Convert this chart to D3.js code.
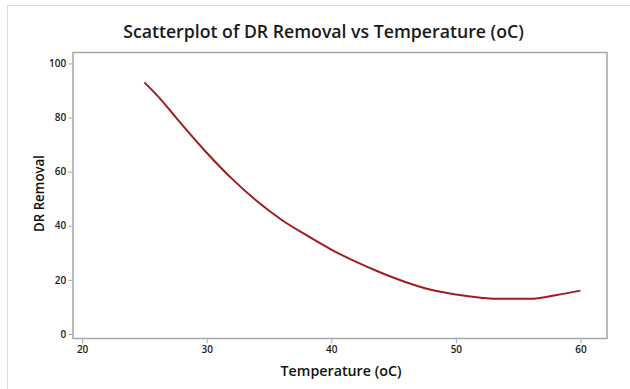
<!DOCTYPE html>
<html>
<head>
<meta charset="utf-8">
<script src="https://cdn.jsdelivr.net/npm/d3@7"></script>
<style>
  html, body { margin: 0; padding: 0; background: #fff; }
  svg { display: block; font-family: "Open Sans", "Noto Sans", sans-serif; }
</style>
</head>
<body>
<svg id="chart" width="630" height="389"></svg>
<script>
// Data
const temperature = [25, 26, 28, 30, 32, 34, 36, 38, 40, 42, 44, 46, 48, 50, 52, 53, 56, 58, 60];
const drRemoval   = [93, 88.3, 77.5, 67, 57.5, 49.2, 42.2, 36.5, 31.2, 26.6, 22.6, 19.1, 16.3, 14.6, 13.4, 13.0, 13.0, 14.3, 16.0];
const xTicks = [20, 30, 40, 50, 60];
const yTicks = [0, 20, 40, 60, 80, 100];
const titleText = "Scatterplot of DR Removal vs Temperature (oC)";
const xLabel = "Temperature (oC)";
const yLabel = "DR Removal";

const svg = d3.select("#chart");
const plot = { left: 73, top: 52.5, right: 607, bottom: 338.5 };

const x = d3.scaleLinear().domain([19.27, 62.13]).range([plot.left, plot.right]);
const y = d3.scaleLinear().domain([-1.7, 104.05]).range([plot.bottom, plot.top]);

// outer figure frame (left and top edges visible)
svg.append("path")
  .attr("d", `M7.5,389 V5.5 H630`)
  .attr("fill", "none").attr("stroke", "#dcdcdc").attr("stroke-width", 1);

// plot frame
svg.append("rect")
  .attr("x", plot.left).attr("y", plot.top)
  .attr("width", plot.right - plot.left).attr("height", plot.bottom - plot.top)
  .attr("fill", "#fff").attr("stroke", "#a6a6a6").attr("stroke-width", 1.5);

// axes
const xAxis = svg.append("g")
  .attr("transform", `translate(0,${plot.bottom + 0.75})`)
  .call(d3.axisBottom(x).tickValues(xTicks).tickSize(4).tickPadding(3).tickFormat(d3.format("d")));
const yAxis = svg.append("g")
  .attr("transform", `translate(${plot.left - 0.75},0)`)
  .call(d3.axisLeft(y).tickValues(yTicks).tickSize(4).tickPadding(2).tickFormat(d3.format("d")));
[xAxis, yAxis].forEach(g => {
  g.select(".domain").remove();
  g.selectAll(".tick line").attr("stroke", "#a6a6a6").attr("stroke-width", 1);
  g.selectAll(".tick text")
    .attr("fill", "#1a1a1a")
    .style("font-size", "10px").style("font-weight", "600")
    .style("font-family", "'Open Sans', sans-serif");
});

// fitted line
const line = d3.line()
  .x((d, i) => x(temperature[i]))
  .y(d => y(d))
  .curve(d3.curveMonotoneX);
svg.append("path")
  .datum(drRemoval)
  .attr("d", line)
  .attr("fill", "none")
  .attr("stroke", "#a01c22")
  .attr("stroke-width", 2);

// text helper: fit font size to target width
function fitText(sel, target) {
  const w = sel.node().getComputedTextLength();
  const fs = parseFloat(sel.style("font-size"));
  sel.style("font-size", (fs * target / w).toFixed(2) + "px");
}

const title = svg.append("text")
  .attr("x", 323.5).attr("y", 38)
  .attr("text-anchor", "middle")
  .attr("fill", "#1a1a1a")
  .style("font-size", "17px").style("font-weight", "600")
  .text(titleText);
fitText(title, 401);

const xl = svg.append("text")
  .attr("x", 341).attr("y", 375.5)
  .attr("text-anchor", "middle")
  .attr("fill", "#111")
  .attr("textLength", 121).attr("lengthAdjust", "spacingAndGlyphs")
  .style("font-size", "14.5px").style("font-weight", "600")
  .text(xLabel);

const yl = svg.append("text")
  .attr("transform", "translate(43.5,193.5) rotate(-90)")
  .attr("text-anchor", "middle")
  .attr("fill", "#111")
  .attr("textLength", 77).attr("lengthAdjust", "spacingAndGlyphs")
  .style("font-size", "14.5px").style("font-weight", "600")
  .text(yLabel);
</script>
</body>
</html>
